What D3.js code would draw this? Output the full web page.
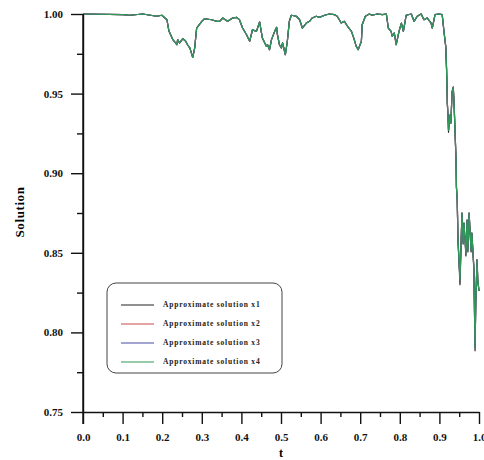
<!DOCTYPE html>
<html lang="en">
<head>
<meta charset="utf-8" />
<script src="https://cdn.jsdelivr.net/npm/d3@7"></script>
<style>
  body { margin: 0; background: #fff; }
  svg { display: block; }
  .axis text { font-family: "Liberation Serif", "Times New Roman", serif; font-weight: bold; font-size: 11px; fill: #111; }
  .axis path, .axis line { stroke: #111; stroke-width: 1.4px; }
</style>
</head>
<body>
<div id="chart"></div>
<script>
// t and the shared solution (x2, x3, x4 overlap exactly)
var tValues = [0, 0.101, 0.118, 0.151, 0.186, 0.199, 0.212, 0.217, 0.227, 0.237, 0.239, 0.244, 0.252, 0.259,
  0.264, 0.270, 0.277, 0.282, 0.287, 0.300, 0.307, 0.325, 0.338, 0.345, 0.353, 0.365, 0.378, 0.388, 0.395,
  0.403, 0.413, 0.421, 0.428, 0.438, 0.446, 0.453, 0.463, 0.466, 0.471, 0.476, 0.484, 0.489, 0.491, 0.496,
  0.501, 0.504, 0.511, 0.516, 0.521, 0.526, 0.539, 0.547, 0.554, 0.564, 0.572, 0.579, 0.589, 0.597, 0.610,
  0.622, 0.635, 0.642, 0.652, 0.660, 0.668, 0.678, 0.685, 0.690, 0.695, 0.703, 0.705, 0.713, 0.723, 0.730,
  0.743, 0.756, 0.766, 0.771, 0.778, 0.781, 0.786, 0.791, 0.798, 0.804, 0.809, 0.816, 0.829, 0.836, 0.844,
  0.854, 0.861, 0.869, 0.879, 0.882, 0.889, 0.899, 0.907, 0.912, 0.916, 0.918, 0.9185, 0.920, 0.922, 0.923,
  0.927, 0.929, 0.932, 0.935, 0.937, 0.940, 0.942, 0.943, 0.945, 0.947, 0.952, 0.957, 0.960, 0.962, 0.967,
  0.970, 0.972, 0.975, 0.980, 0.982, 0.987, 0.990, 0.992, 0.995, 0.997, 1.000];
var solution = [1.000, 0.9996, 0.9992, 1.000, 0.9986, 0.9992, 0.9964, 0.9893, 0.9839, 0.9807, 0.9839, 0.9818, 0.9845, 0.9830,
  0.9807, 0.9786, 0.9728, 0.9786, 0.9912, 0.9954, 0.9970, 0.9964, 0.9954, 0.9954, 0.9975, 0.9954, 0.9975, 0.9979, 0.9964,
  0.9912, 0.9870, 0.9829, 0.9901, 0.9891, 0.9950, 0.9849, 0.9797, 0.9807, 0.9776, 0.9839, 0.9891, 0.9916, 0.9870, 0.9807,
  0.9786, 0.9818, 0.9744, 0.9829, 0.9954, 0.9992, 0.9986, 0.9964, 0.9912, 0.9943, 0.9954, 0.9975, 0.9986, 0.9979, 0.9992,
  1.000, 0.9996, 0.9986, 0.9943, 0.9954, 0.9923, 0.9891, 0.9839, 0.9797, 0.9776, 0.9829, 0.9933, 0.9986, 1.000, 0.9992,
  1.000, 0.9996, 1.000, 0.9912, 0.9891, 0.9860, 0.9881, 0.9807, 0.9891, 0.9943, 0.9891, 0.9992, 1.000, 0.9954, 0.9986,
  1.000, 0.9964, 0.9975, 0.9943, 0.9912, 0.9996, 1.000, 0.9996, 0.9881, 0.9797, 0.9661, 0.9617, 0.9441, 0.9347, 0.9271,
  0.9366, 0.9315, 0.9510, 0.9541, 0.9441, 0.9227, 0.9083, 0.8913, 0.8832, 0.8580, 0.8329, 0.8750, 0.8562, 0.8687, 0.8499,
  0.8706, 0.8518, 0.8750, 0.8518, 0.8624, 0.8411, 0.7908, 0.8204, 0.8455, 0.8329, 0.8260];

// x1 separates from the others only in the last stretch (small black tips at the minima)
var x1TailT = [0.920, 0.922, 0.923, 0.927, 0.929, 0.932, 0.935, 0.937, 0.940, 0.942, 0.943, 0.945, 0.947, 0.952, 0.957,
  0.960, 0.962, 0.967, 0.970, 0.972, 0.975, 0.980, 0.982, 0.987, 0.990, 0.992, 0.995, 0.997, 1.000];
var x1TailValues = [0.9441, 0.9347, 0.9258, 0.9366, 0.9315, 0.9510, 0.9541, 0.9441, 0.9227, 0.9083, 0.8913, 0.8832, 0.8575,
  0.8300, 0.8750, 0.8555, 0.8687, 0.8480, 0.8706, 0.8505, 0.8750, 0.8505, 0.8624, 0.8395, 0.7885, 0.8204, 0.8455, 0.8320, 0.8260];

var seriesNames = ["Approximate solution x1", "Approximate solution x2", "Approximate solution x3", "Approximate solution x4"];
var seriesColors = ["#222222", "#cc4a4a", "#4a4aa8", "#2f9a55"];

var xTicks = [0, 0.1, 0.2, 0.3, 0.4, 0.5, 0.6, 0.7, 0.8, 0.9, 1.0];
var xMinorTicks = [0.05, 0.15, 0.25, 0.35, 0.45, 0.55, 0.65, 0.75, 0.85, 0.95];
var yTicks = [0.75, 0.80, 0.85, 0.90, 0.95, 1.00];
var yMinorTicks = [0.775, 0.825, 0.875, 0.925, 0.975];

var width = 484, height = 460;
var margin = { top: 14, right: 4, bottom: 48, left: 83 };
var plotW = width - margin.left - margin.right - 1; // 397
var plotH = height - margin.top - margin.bottom; // 398

var svg = d3.select("#chart").append("svg")
  .attr("width", width)
  .attr("height", height);

var g = svg.append("g")
  .attr("transform", "translate(" + margin.left + "," + margin.top + ")");

var x = d3.scaleLinear().domain([0, 1]).range([0, plotW]);
var y = d3.scaleLinear().domain([0.75, 1.0]).range([plotH, 0]);

// build points
var shared = tValues.map(function (t, i) { return [t, solution[i]]; });
var x1Points = shared.filter(function (d) { return d[0] < 0.92; })
  .concat(x1TailT.map(function (t, i) { return [t, x1TailValues[i]]; }));
var seriesPoints = [x1Points, shared, shared, shared];

var line = d3.line()
  .x(function (d) { return x(d[0]); })
  .y(function (d) { return y(d[1]); });

seriesPoints.forEach(function (pts, i) {
  g.append("path")
    .datum(pts)
    .attr("fill", "none")
    .attr("stroke", seriesColors[i])
    .attr("stroke-width", 1.2)
    .attr("stroke-linejoin", "round")
    .attr("d", line);
});

// axes
g.append("g")
  .attr("class", "axis")
  .attr("transform", "translate(0," + plotH + ")")
  .call(d3.axisBottom(x).tickValues(xMinorTicks).tickSize(5).tickFormat(""))
  .select(".domain").remove();

g.append("g")
  .attr("class", "axis")
  .attr("transform", "translate(0," + plotH + ")")
  .call(d3.axisBottom(x).tickValues(xTicks).tickSize(12).tickSizeOuter(0).tickPadding(9).tickFormat(d3.format(".1f")));

g.append("g")
  .attr("class", "axis")
  .call(d3.axisLeft(y).tickValues(yMinorTicks).tickSize(6).tickFormat(""))
  .select(".domain").remove();

g.append("g")
  .attr("class", "axis")
  .call(d3.axisLeft(y).tickValues(yTicks).tickSize(12).tickSizeOuter(0).tickPadding(8).tickFormat(d3.format(".2f")));

// extend y axis line down like the 0.0 tick
g.append("line")
  .attr("x1", 0).attr("x2", 0)
  .attr("y1", 0).attr("y2", plotH + 12)
  .attr("stroke", "#111").attr("stroke-width", 1.4);

// axis titles
svg.append("text")
  .attr("x", margin.left + x(0.5))
  .attr("y", 457)
  .attr("text-anchor", "middle")
  .style("font-family", "'Liberation Serif', serif")
  .style("font-weight", "bold")
  .style("font-size", "12px")
  .text("t");

svg.append("text")
  .attr("transform", "translate(24,212) rotate(-90)")
  .attr("text-anchor", "middle")
  .style("font-family", "'Liberation Serif', serif")
  .style("font-weight", "bold")
  .style("font-size", "13px")
  .style("letter-spacing", "0.6px")
  .text("Solution");

// legend
var legend = svg.append("g").attr("transform", "translate(107,283)");
legend.append("rect")
  .attr("width", 175)
  .attr("height", 90)
  .attr("rx", 9)
  .attr("fill", "#fff")
  .attr("stroke", "#444")
  .attr("stroke-width", 1);

var rows = legend.selectAll(".key")
  .data(seriesNames)
  .enter()
  .append("g")
  .attr("class", "key")
  .attr("transform", function (d, i) { return "translate(0," + (22 + i * 19) + ")"; });

rows.append("line")
  .attr("x1", 14).attr("x2", 47)
  .attr("stroke", function (d, i) { return seriesColors[i]; })
  .attr("stroke-width", 1.2);

rows.append("text")
  .attr("x", 56)
  .attr("dy", "0.32em")
  .style("font-family", "'Liberation Serif', serif")
  .style("font-weight", "bold")
  .style("font-size", "7.5px")
  .style("letter-spacing", "0.8px")
  .style("fill", "#222")
  .text(function (d) { return d; });
</script>
</body>
</html>
